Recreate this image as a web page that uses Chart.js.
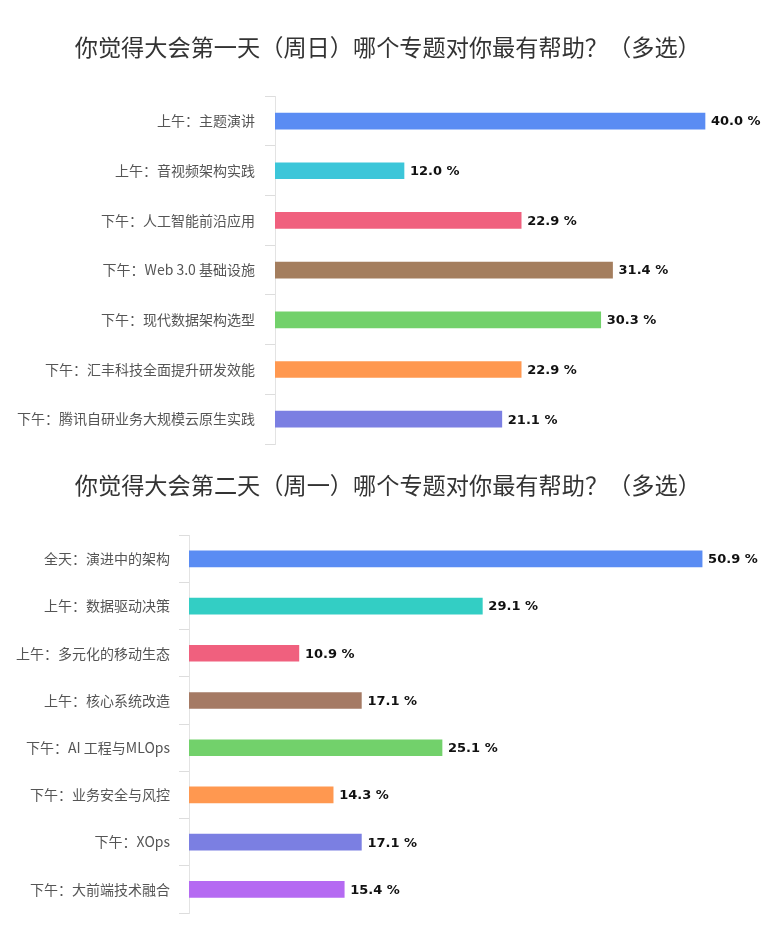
<!DOCTYPE html>
<html>
<head>
<meta charset="utf-8">
<script src="https://cdn.jsdelivr.net/npm/chart.js@4/dist/chart.umd.min.js"></script>
<style>
  html, body { margin: 0; padding: 0; background: #fff; }
  #wrap { position: relative; width: 780px; height: 932px; overflow: hidden; }
  .box { position: absolute; left: 0; width: 780px; }
</style>
</head>
<body>
<div id="wrap">
  <div class="box" style="top:0;height:463px;"><canvas id="c1"></canvas></div>
  <div class="box" style="top:450px;height:482px;"><canvas id="c2"></canvas></div>
</div>
<script>
// ---- Data ----
const title1 = '你觉得大会第一天（周日）哪个专题对你最有帮助？（多选）';
const categories1 = ['上午：主题演讲', '上午：音视频架构实践', '下午：人工智能前沿应用', '下午：Web 3.0 基础设施', '下午：现代数据架构选型', '下午：汇丰科技全面提升研发效能', '下午：腾讯自研业务大规模云原生实践'];
const values1 = [40.0, 12.0, 22.9, 31.4, 30.3, 22.9, 21.1];
const colors1 = ['#5A8CF3', '#3CC6D9', '#F0607E', '#A47E5E', '#72D16B', '#FF9850', '#7B7FE2'];

const title2 = '你觉得大会第二天（周一）哪个专题对你最有帮助？（多选）';
const categories2 = ['全天：演进中的架构', '上午：数据驱动决策', '上午：多元化的移动生态', '上午：核心系统改造', '下午：AI 工程与MLOps', '下午：业务安全与风控', '下午：XOps', '下午：大前端技术融合'];
const values2 = [50.9, 29.1, 10.9, 17.1, 25.1, 14.3, 17.1, 15.4];
const colors2 = ['#5A8CF3', '#33CEC4', '#F0607E', '#A57A64', '#72D16B', '#FF9850', '#7B7FE2', '#B56AF2'];

// ---- Plugin: value labels ----
const valueLabels = {
  id: 'valueLabels',
  afterDatasetsDraw(chart) {
    const ctx = chart.ctx;
    const meta = chart.getDatasetMeta(0);
    const data = chart.data.datasets[0].data;
    ctx.save();
    ctx.font = 'bold 13px "DejaVu Sans", sans-serif';
    ctx.fillStyle = '#111';
    ctx.textAlign = 'left';
    ctx.textBaseline = 'middle';
    meta.data.forEach((bar, i) => {
      ctx.fillText(data[i].toFixed(1) + ' %', bar.x + 6, bar.y + 1);
    });
    ctx.restore();
  }
};

function makeChart(id, title, cats, vals, cols, opts) {
  return new Chart(document.getElementById(id), {
    type: 'bar',
    data: {
      labels: cats,
      datasets: [{
        data: vals,
        backgroundColor: cols,
        borderWidth: 0,
        barThickness: 16
      }]
    },
    options: {
      indexAxis: 'y',
      responsive: true,
      maintainAspectRatio: false,
      animation: false,
      layout: { padding: { left: opts.padLeft, right: opts.padRight, top: 0, bottom: opts.padBottom } },
      plugins: {
        legend: { display: false },
        tooltip: { enabled: false },
        title: {
          display: true,
          text: title,
          color: '#333',
          font: { family: '"Noto Sans CJK SC", sans-serif', size: 23.2, weight: 'normal' },
          padding: { top: opts.titleTop, bottom: opts.titleBottom }
        }
      },
      scales: {
        x: {
          display: false,
          min: 0,
          max: opts.xMax
        },
        y: {
          afterFit(scale) { scale.width = opts.axisX - opts.padLeft; },
          border: { display: true, color: '#e3e3e3', width: 1 },
          grid: {
            display: true,
            drawOnChartArea: false,
            drawTicks: true,
            tickLength: 10,
            offset: true,
            color: '#dddddd'
          },
          ticks: {
            color: '#555',
            padding: opts.tickPad,
            font: { family: '"Noto Sans CJK SC", sans-serif', size: 14 }
          }
        }
      }
    },
    plugins: [valueLabels]
  });
}

makeChart('c1', title1, categories1, values1, colors1, {
  padLeft: 6, padRight: 10.5, padBottom: 19, titleTop: 33.2, titleBottom: 35.2, xMax: 46, axisX: 275, tickPad: 10
});
makeChart('c2', title2, categories2, values2, colors2, {
  padLeft: 12, padRight: 16.4, padBottom: 19, titleTop: 21, titleBottom: 36.4, xMax: 57, axisX: 189, tickPad: 9
});
</script>
</body>
</html>
